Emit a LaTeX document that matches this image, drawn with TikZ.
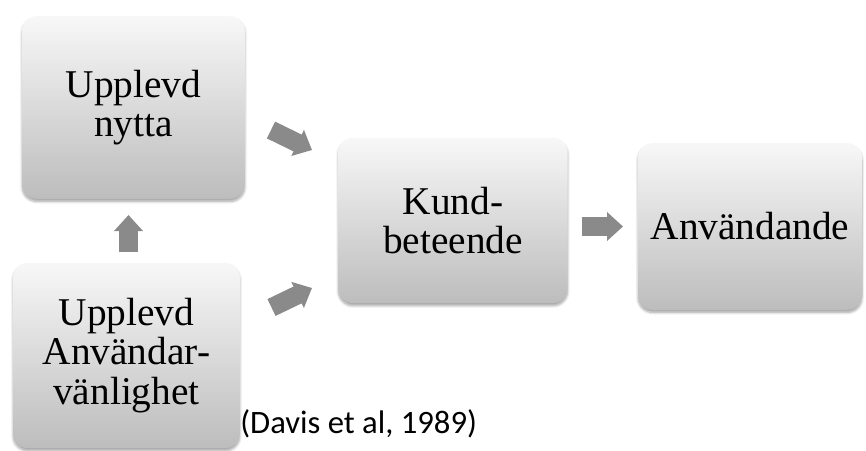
\documentclass[tikz,border=0pt]{standalone}
\usepackage{fontspec}
\setmainfont{Liberation Serif}
\newfontfamily\citefont{Carlito}
\usetikzlibrary{arrows.meta,shadows.blur}

\definecolor{arrowgray}{RGB}{138,138,138}
\tikzset{
    stage/.style={rounded corners=11pt, top color=black!3, bottom color=black!26,
        blur shadow={shadow xshift=0pt, shadow yshift=-2pt, shadow blur steps=6, shadow opacity=35},
        align=center, inner sep=0pt, font=\fontsize{29.5}{29.5}\selectfont},
    flow/.style={arrowgray, line width=14pt, -{Triangle[length=12pt,width=21pt]}}
}

\begin{document}
\begin{tikzpicture}[x=0.75pt,y=-0.75pt]
    \useasboundingbox (0,0) rectangle (866,450);

    % Boxes
    \node[stage, minimum width=167pt, minimum height=137pt] (nytta) at (133.5,107.5) {Upplevd\\nytta};
    \node[stage, minimum width=170pt, minimum height=139pt] (vanlig) at (126.5,355.5) {Upplevd\\Användar-\\vänlighet};
    \node[stage, minimum width=172pt, minimum height=124pt] (kund) at (453,220.5) {Kund-\\beteende};
    \node[stage, minimum width=168pt, minimum height=125pt] (anv) at (750,226.5) {Användande};

    % Arrow ends
    \coordinate (n1) at (271,130);
    \coordinate (n2) at (312,150);
    \coordinate (v1) at (271.5,307.5);
    \coordinate (v2) at (312,288);
    \coordinate (u1) at (128.5,252);
    \coordinate (u2) at (128.5,215);
    \coordinate (k1) at (582,226.5);
    \coordinate (k2) at (623,226.5);

    % Arrows
    \draw[flow] (n1) -- (n2);
    \draw[flow] (v1) -- (v2);
    \draw[flow] (u1) -- (u2);
    \draw[flow] (k1) -- (k2);

    % Source
    \node[anchor=base west, inner sep=0pt, font=\citefont\fontsize{24.5}{26}\selectfont] (src) at (240,433) {(Davis et al, 1989)};
\end{tikzpicture}
\end{document}
